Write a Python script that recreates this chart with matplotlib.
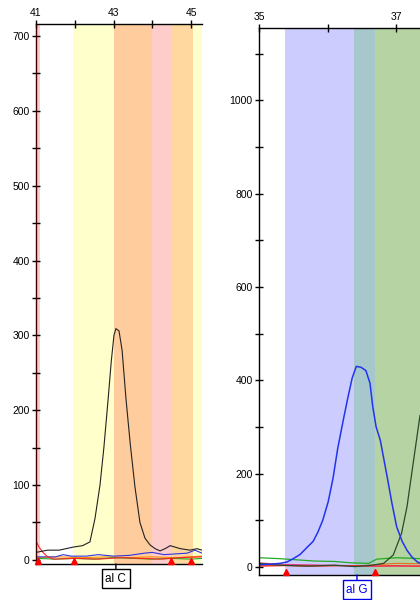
import numpy as np
import matplotlib.pyplot as plt
from matplotlib.ticker import MultipleLocator
from matplotlib.transforms import blended_transform_factory

plt.rcParams['font.family'] = ['Liberation Sans', 'DejaVu Sans']

# ---- left panel (base 43, call C) ----
left_band_edges = [41.0, 41.1, 41.95, 43.0, 44.0, 44.5, 45.05, 45.3]
left_band_colors = ['#FFCCCC', '#FFFFFF', '#FFFFCC', '#FFCC9E', '#FFCCCC', '#FFD8A0', '#FFFFCC']

left_black_x = [41.0, 41.1, 41.3, 41.6, 41.95, 42.2, 42.39, 42.52, 42.65, 42.75, 42.86, 42.94,
                43.01, 43.06, 43.14, 43.22, 43.32, 43.43, 43.55, 43.68, 43.81, 43.94, 44.07,
                44.2, 44.33, 44.46, 44.59, 44.72, 44.97, 45.15, 45.28]
left_black_y = [10, 11, 13, 13, 17, 19, 24, 55, 100, 150, 215, 265,
                300, 309, 306, 280, 215, 155, 98, 50, 29, 20, 15,
                12, 15, 19, 17, 15, 13, 15, 13]

left_red_x = [41.0, 41.08, 41.18, 41.3, 41.45, 42.0, 42.6, 43.2, 43.7, 44.2, 44.7, 45.28]
left_red_y = [25, 17, 10, 4, 1, 2, 1, 3, 2, 1, 3, 4]

left_blue_x = [41.0, 41.5, 41.7, 41.9, 42.3, 42.6, 43.0, 43.4, 43.8, 44.0, 44.3, 44.6, 44.9, 45.1, 45.28]
left_blue_y = [4, 4, 7, 5, 5, 7, 5, 6, 9, 10, 7, 8, 9, 13, 9]

left_green_x = [41.0, 41.5, 42.0, 42.5, 43.0, 43.5, 44.0, 44.5, 45.0, 45.28]
left_green_y = [2, 1, 2, 1, 3, 2, 1, 2, 1, 2]

left_orange_x = [41.0, 41.6, 42.2, 42.8, 43.4, 44.0, 44.6, 45.28]
left_orange_y = [3, 4, 3, 4, 3, 4, 3, 5]

left_peak_marks = [41.05, 41.98, 44.48, 45.0]
left_call = (43.06, 'al C')

# ---- right panel (base 36, call G) ----
right_band_edges = [35.0, 35.38, 36.39, 36.69, 37.4]
right_band_colors = ['#FFFFFF', '#CCCCFF', '#A6C8CC', '#B6D4A3']

right_blue_x = [35.0, 35.16, 35.31, 35.41, 35.5, 35.6, 35.7, 35.79, 35.86, 35.93, 36.01, 36.08,
                36.15, 36.23, 36.3, 36.36, 36.42, 36.49, 36.56, 36.62, 36.66, 36.71, 36.77,
                36.87, 36.94, 37.01, 37.09, 37.16, 37.23, 37.31, 37.36]
right_blue_y = [5, 6, 8, 11, 18, 27, 42, 55, 75, 100, 140, 190,
                255, 315, 365, 405, 430, 428, 421, 394, 344, 300, 272,
                194, 137, 86, 55, 36, 22, 11, 8]

right_dkgreen_x = [35.0, 35.3, 35.7, 36.1, 36.4, 36.65, 36.82, 36.96, 37.08, 37.16, 37.25, 37.35]
right_dkgreen_y = [8, 4, 2, 4, 1, 4, 8, 26, 72, 129, 222, 325]

right_green_x = [35.0, 35.3, 35.5, 35.8, 36.1, 36.35, 36.6, 36.72, 37.0, 37.2, 37.35]
right_green_y = [20, 18, 16, 13, 12, 9, 8, 17, 20, 19, 18]

right_red_x = [35.0, 35.4, 35.8, 36.2, 36.6, 37.0, 37.35]
right_red_y = [2, 3, 2, 3, 2, 3, 2]

right_pink_x = [35.0, 35.3, 35.6, 36.0, 36.4, 36.8, 37.35]
right_pink_y = [9, 6, 5, 4, 3, 2, 2]

right_orange_x = [35.0, 35.5, 36.0, 36.5, 36.8, 37.0, 37.35]
right_orange_y = [3, 4, 3, 3, 6, 8, 7]

right_peak_marks = [35.39, 36.70]
right_call = (36.43, 'al G')

fig = plt.figure(figsize=(4.2, 6), dpi=100)
ax1 = fig.add_axes([36 / 420, 1 - 564 / 600, (202 - 36) / 420, 540 / 600])
ax2 = fig.add_axes([259 / 420, 1 - 575 / 600, (420 - 259) / 420, 547 / 600])


def style_axes(ax, xlim, ylim, ymaj, ymin, spine_col):
    ax.set_xlim(*xlim)
    ax.set_ylim(*ylim)
    ax.xaxis.tick_top()
    # labelled ticks sit on odd positions (41, 43, 45 / 35, 37)
    ax.xaxis.set_major_locator(MultipleLocator(2, offset=1))
    ax.xaxis.set_minor_locator(MultipleLocator(1))
    ax.yaxis.set_major_locator(MultipleLocator(ymaj))
    ax.yaxis.set_minor_locator(MultipleLocator(ymin))
    ax.tick_params(which='both', direction='inout', labelsize=7.5, width=1, pad=1.5)
    ax.tick_params(which='major', length=6)
    ax.tick_params(which='minor', length=6)
    ax.spines['right'].set_visible(False)
    ax.spines['left'].set_color(spine_col)
    for s in ax.spines.values():
        s.set_linewidth(1)
    ax.set_facecolor('white')


def draw_bands(ax, edges, colors):
    for i, c in enumerate(colors):
        ax.axvspan(edges[i], edges[i + 1], color=c, lw=0, zorder=0)


def draw_marks(ax, xs):
    tr = blended_transform_factory(ax.transData, ax.transAxes)
    ax.plot(xs, [0.006] * len(xs), '^', color='red', ms=5, mec='red',
            transform=tr, clip_on=False, zorder=5)


def draw_call(ax, call, col):
    x, txt = call
    ax.annotate(txt, xy=(x, 0), xycoords=('data', 'axes fraction'),
                xytext=(x, -0.027), textcoords=('data', 'axes fraction'),
                ha='center', va='center', fontsize=8.5, color=col,
                bbox=dict(boxstyle='square,pad=0.3', fc='white', ec=col, lw=1),
                arrowprops=dict(arrowstyle='-', color=col, lw=1, shrinkA=0, shrinkB=0),
                annotation_clip=False)


# left
draw_bands(ax1, left_band_edges, left_band_colors)
ax1.plot(left_orange_x, left_orange_y, color='#FF8C00', lw=0.8)
ax1.plot(left_green_x, left_green_y, color='#22AA22', lw=0.8)
ax1.plot(left_blue_x, left_blue_y, color='#3333DD', lw=0.8)
ax1.plot(left_red_x, left_red_y, color='#FF2222', lw=0.8)
ax1.plot(left_black_x, left_black_y, color='#222222', lw=0.8)
style_axes(ax1, (41.0, 45.28), (-5.5, 716), 100, 50, '#3A0000')
draw_marks(ax1, left_peak_marks)
draw_call(ax1, left_call, 'black')

# right
draw_bands(ax2, right_band_edges, right_band_colors)
ax2.plot(right_orange_x, right_orange_y, color='#E07020', lw=0.8)
ax2.plot(right_pink_x, right_pink_y, color='#E04080', lw=0.8)
ax2.plot(right_red_x, right_red_y, color='#FF2222', lw=0.8)
ax2.plot(right_green_x, right_green_y, color='#22AA22', lw=0.9)
ax2.plot(right_dkgreen_x, right_dkgreen_y, color='#2A4A2A', lw=0.9)
ax2.plot(right_blue_x, right_blue_y, color='#2233EE', lw=1.1)
style_axes(ax2, (35.0, 37.35), (-17, 1155), 200, 100, 'black')
draw_marks(ax2, right_peak_marks)
draw_call(ax2, right_call, '#0000EE')

fig.savefig('out.png', dpi=100)
